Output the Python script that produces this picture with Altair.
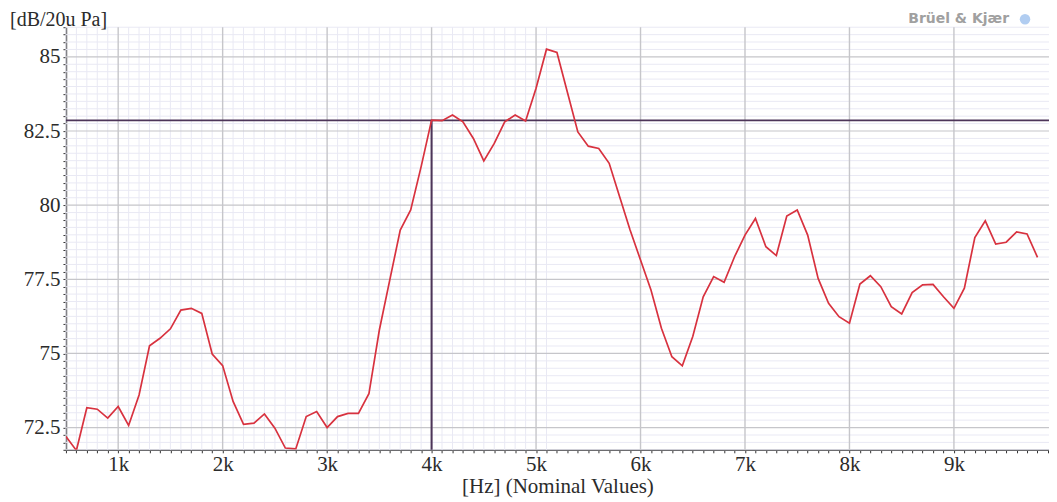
import altair as alt
import pandas as pd

# ---- data ----
freq_hz = [500, 600, 700, 800, 900, 1000, 1100, 1200, 1300, 1400, 1500, 1600, 1700, 1800, 1900,
           2000, 2100, 2200, 2300, 2400, 2500, 2600, 2700, 2800, 2900, 3000, 3100, 3200, 3300, 3400,
           3500, 3600, 3700, 3800, 3900, 4000, 4100, 4200, 4300, 4400, 4500, 4600, 4700, 4800, 4900,
           5000, 5100, 5200, 5300, 5400, 5500, 5600, 5700, 5800, 5900, 6000, 6100, 6200, 6300, 6400,
           6500, 6600, 6700, 6800, 6900, 7000, 7100, 7200, 7300, 7400, 7500, 7600, 7700, 7800, 7900,
           8000, 8100, 8200, 8300, 8400, 8500, 8600, 8700, 8800, 8900, 9000, 9100, 9200, 9300, 9400,
           9500, 9600, 9700, 9800]
level_db = [72.20, 71.73, 73.17, 73.12, 72.82, 73.21, 72.57, 73.60, 75.26, 75.51, 75.83, 76.46, 76.52, 76.35, 74.98,
            74.59, 73.38, 72.61, 72.65, 72.96, 72.48, 71.81, 71.78, 72.87, 73.04, 72.50, 72.87, 72.98, 72.98, 73.64,
            75.79, 77.48, 79.16, 79.84, 81.30, 82.87, 82.85, 83.04, 82.81, 82.25, 81.49, 82.08, 82.81, 83.04, 82.84,
            83.94, 85.26, 85.15, 83.81, 82.47, 81.99, 81.91, 81.41, 80.28, 79.16, 78.15, 77.14, 75.85, 74.89, 74.58,
            75.57, 76.91, 77.59, 77.40, 78.26, 78.99, 79.55, 78.60, 78.30, 79.63, 79.84, 78.99, 77.53, 76.69, 76.24,
            76.02, 77.34, 77.62, 77.25, 76.58, 76.33, 77.05, 77.31, 77.33, 76.91, 76.52, 77.20, 78.91, 79.47, 78.69,
            78.75, 79.10, 79.03, 78.24]

cursor_freq = [4000]
cursor_level = [82.86]

x_major = [1000, 2000, 3000, 4000, 5000, 6000, 7000, 8000, 9000]
y_major = [72.5, 75.0, 77.5, 80.0, 82.5, 85.0]
x_minor = [f for f in range(500, 5200, 100) if f % 1000 != 0]
y_minor = [round(71.75 + 0.25 * i, 2) for i in range(58) if round(71.75 + 0.25 * i, 2) not in y_major]
x_ticks = list(range(500, 9901, 100))
y_ticks = [round(71.75 + 0.25 * i, 2) for i in range(58)]

X_DOMAIN = [500, 9910]
Y_DOMAIN = [71.75, 86.0]
W, H = 984, 423

SERIF = "Liberation Serif"
LABEL_COLOR = "#2b2b2b"
X_TITLE = "[Hz] (Nominal Values)"

xs = alt.Scale(domain=X_DOMAIN, nice=False, zero=False)
ys = alt.Scale(domain=Y_DOMAIN, nice=False, zero=False)

x_axis = alt.Axis(
    values=x_ticks,
    labelExpr="datum.value % 1000 == 0 ? (datum.value / 1000) + 'k' : ''",
    grid=False,
    tickSize=3,
    tickColor="#333333",
    domainColor="#333333",
    domainWidth=1.5,
    labelFont=SERIF,
    labelFontSize=21,
    labelColor=LABEL_COLOR,
    labelPadding=1,
    labelFlush=False,
    labelOverlap=False,
    titleFont=SERIF,
    titleFontSize=21,
    titleFontWeight="normal",
    titleColor=LABEL_COLOR,
    titlePadding=1,
)
y_axis = alt.Axis(
    values=y_ticks,
    labelExpr="(datum.value * 100) % 250 == 0 ? '' + datum.value : ''",
    grid=False,
    tickSize=3,
    tickColor="#333333",
    domainColor="#333333",
    domainWidth=1.5,
    labelFont=SERIF,
    labelFontSize=21,
    labelColor=LABEL_COLOR,
    labelPadding=3,
    labelOverlap=False,
    labelFlush=False,
)


def X(field):
    return alt.X(field, scale=xs, title=X_TITLE, axis=x_axis)


def Y(field):
    return alt.Y(field, scale=ys, title=None, axis=y_axis)


line_df = pd.DataFrame({"f": freq_hz, "db": level_db})

minor_h = alt.Chart(pd.DataFrame({"y": y_minor})).mark_rule(
    color="#e9e9f4", strokeWidth=1
).encode(y=Y("y:Q"))

minor_v = alt.Chart(pd.DataFrame({"x": x_minor})).mark_rule(
    color="#e9e9f4", strokeWidth=1
).encode(x=X("x:Q"))

major_h = alt.Chart(pd.DataFrame({"y": y_major})).mark_rule(
    color="#c6c6ca", strokeWidth=1.2
).encode(y=Y("y:Q"))

major_v = alt.Chart(pd.DataFrame({"x": x_major})).mark_rule(
    color="#c6c6ca", strokeWidth=1.4
).encode(x=X("x:Q"))

cursor_df = pd.DataFrame({"f": cursor_freq, "db": cursor_level, "base": [Y_DOMAIN[0]]})
cursor_h = alt.Chart(cursor_df).mark_rule(color="#4d3559", strokeWidth=1.6).encode(
    y=Y("db:Q")
)
cursor_v = alt.Chart(cursor_df).mark_rule(color="#4d3559", strokeWidth=2).encode(
    x=X("f:Q"),
    y=Y("db:Q"),
    y2="base:Q",
)

line = alt.Chart(line_df).mark_line(color="#d8323f", strokeWidth=1.7, clip=True).encode(
    x=X("f:Q"),
    y=Y("db:Q"),
)

ytitle = alt.Chart(pd.DataFrame({"t": ["[dB/20u Pa]"]})).mark_text(
    font=SERIF, fontSize=20, color=LABEL_COLOR, align="left", baseline="middle"
).encode(text="t:N", x=alt.value(-56), y=alt.value(-7))

logo = alt.Chart(pd.DataFrame({"t": ["Brüel & Kjær"]})).mark_text(
    font="DejaVu Sans", fontSize=14, fontWeight="bold", color="#a0a0a0", align="right", baseline="middle"
).encode(text="t:N", x=alt.value(944), y=alt.value(-8))

logo_icon = alt.Chart(pd.DataFrame({"t": ["icon"]})).mark_point(
    shape="circle", filled=True, color="#a9c8ef", size=110, opacity=0.9
).encode(x=alt.value(960), y=alt.value(-8))

chart = alt.layer(
    minor_h, minor_v, major_h, major_v, cursor_h, cursor_v, line, ytitle, logo, logo_icon
).properties(
    width=W,
    height=H,
    autosize=alt.AutoSizeParams(type="none"),
    padding={"left": 58, "top": 19, "right": 0, "bottom": 52},
    background="white",
).configure_view(stroke=None)

chart.save("out.html", embed_options={"renderer": "svg", "actions": False})
